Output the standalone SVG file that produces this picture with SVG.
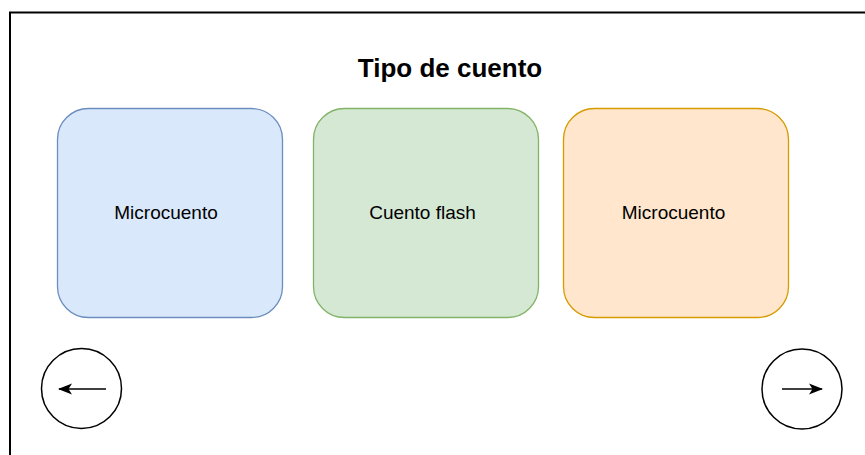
<svg xmlns="http://www.w3.org/2000/svg" width="865" height="455" viewBox="0 0 865 455">
<style>
.box{stroke-width:1.3}
.lbl{font-family:"Liberation Sans",Arial,sans-serif;font-size:19px;fill:#000;text-anchor:middle}
.title{font-family:"Liberation Sans",Arial,sans-serif;font-size:26px;font-weight:bold;fill:#000;text-anchor:middle}
.nav{fill:#fff;stroke:#000;stroke-width:1.5}
.conn{stroke:#000;stroke-width:1.5;fill:none}
</style>
<defs>
<marker id="ah" viewBox="0 0 14 12" refX="13" refY="6" markerWidth="14" markerHeight="12" markerUnits="userSpaceOnUse" orient="auto">
<path d="M0,0.5 L14,6 L0,11.5 L3.5,6 Z" fill="#000"/>
</marker>
</defs>
<rect width="865" height="455" fill="#fff"/>
<rect id="frame" x="10" y="12.5" width="870" height="460" fill="none" stroke="#000" stroke-width="2"/>
<g id="title"><text class="title" x="450" y="77">Tipo de cuento</text></g>
<g id="node-microcuento-1">
<rect class="box" x="57.5" y="108.5" width="225" height="209" rx="31" fill="#dae8fc" stroke="#6c8ebf"/>
<text class="lbl" x="166" y="219">Microcuento</text>
</g>
<g id="node-cuento-flash">
<rect class="box" x="313.5" y="108.5" width="225" height="209" rx="31" fill="#d5e8d4" stroke="#82b366"/>
<text class="lbl" x="422.5" y="219">Cuento flash</text>
</g>
<g id="node-microcuento-2">
<rect class="box" x="563.5" y="108.5" width="225" height="209" rx="31" fill="#ffe6cc" stroke="#d79b00"/>
<text class="lbl" x="673.5" y="219">Microcuento</text>
</g>
<g id="node-prev"><circle class="nav" cx="81.5" cy="388.5" r="40"/></g>
<g id="node-next"><circle class="nav" cx="802" cy="389" r="40"/></g>
<g id="connectors">
<line class="conn" x1="106" y1="389" x2="59" y2="389" marker-end="url(#ah)"/>
<line class="conn" x1="782" y1="389" x2="822" y2="389" marker-end="url(#ah)"/>
</g>
</svg>
